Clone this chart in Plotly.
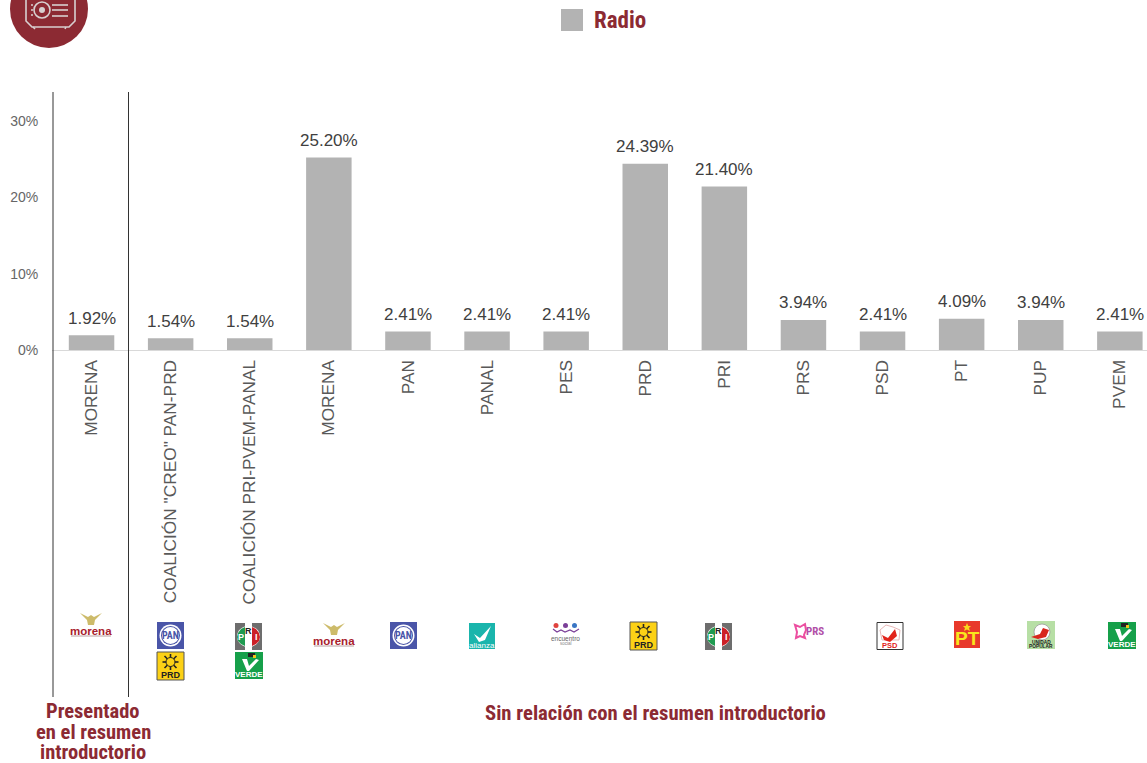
import plotly.graph_objects as go

W, H = 1147, 763
categories = ['MORENA', 'COALICIÓN "CREO" PAN-PRD', 'COALICIÓN PRI-PVEM-PANAL', 'MORENA', 'PAN', 'PANAL', 'PES',
              'PRD', 'PRI', 'PRS', 'PSD', 'PT', 'PUP', 'PVEM']
values = [1.92, 1.54, 1.54, 25.20, 2.41, 2.41, 2.41, 24.39, 21.40, 3.94, 2.41, 4.09, 3.94, 2.41]
series_name = 'Radio'
y_ticks = [0, 10, 20, 30]
RED = '#8c2a33'
NARROW = 'Liberation Sans Narrow, Roboto Condensed, Liberation Sans, sans-serif'
SANS = 'Liberation Sans, Arial, sans-serif'

shapes, notes = [], []
def px(x): return x / W
def py(y): return 1 - y / H
def rect(x0, y0, x1, y1, fill, line=None, lw=0, kind='rect'):
    shapes.append(dict(type=kind, xref='paper', yref='paper', x0=px(x0), x1=px(x1), y0=py(y0), y1=py(y1),
                       fillcolor=fill, line=dict(color=line or fill, width=lw)))
def seg(x0, y0, x1, y1, color, lw=1):
    shapes.append(dict(type='line', xref='paper', yref='paper', x0=px(x0), x1=px(x1), y0=py(y0), y1=py(y1),
                       line=dict(color=color, width=lw)))
def poly(points, fill, line=None, lw=0, close=True):
    d = 'M ' + ' L '.join(f'{px(a):.5f},{py(b):.5f}' for a, b in points) + (' Z' if close else '')
    shapes.append(dict(type='path', xref='paper', yref='paper', path=d, fillcolor=fill,
                       line=dict(color=line or fill, width=lw)))
def text(x, y, s, size, color, family=SANS, bold=False):
    notes.append(dict(xref='paper', yref='paper', x=px(x), y=py(y), text=f'<b>{s}</b>' if bold else s,
                      showarrow=False, xanchor='center', yanchor='middle',
                      font=dict(size=size, color=color, family=family)))

# projector badge
rect(10, -30, 88, 48, RED, kind='circle')
ICON = '#d8d0d0'
poly([(26, -6), (75, -6), (75, 21), (69, 27), (32, 27), (26, 21)], 'rgba(0,0,0,0)', ICON, 1.6)
rect(34, 2, 50, 18, 'rgba(0,0,0,0)', ICON, 1.6, 'circle')
rect(39, 7, 45, 13, ICON, kind='circle')
for yy in (5, 10, 16):
    seg(52, yy, 68, yy, ICON, 1.6)
for yy in (5, 10, 15):
    seg(31, yy, 33, yy, ICON, 1.4)
seg(33, 27, 35, 29, ICON, 1.6)
seg(66, 27, 65, 29, ICON, 1.6)

# legend
rect(561, 9, 583, 31, '#b3b3b3')
text(620, 20.5, series_name, 23, RED, NARROW, True)

# separators
seg(53, 92, 53, 697, '#333333', 1)
seg(128.5, 92, 128.5, 697, '#333333', 1)

# footers
text(93, 711, 'Presentado', 20.5, RED, NARROW, True)
text(93, 732, 'en el resumen', 20.5, RED, NARROW, True)
text(93, 752, 'introductorio', 20.5, RED, NARROW, True)
text(655, 713, 'Sin relación con el resumen introductorio', 20.7, RED, NARROW, True)

# logos
def morena(cx, top):
    poly([(cx-11, top), (cx-3, top+4), (cx, top+2), (cx+3, top+4), (cx+11, top), (cx+4, top+7),
          (cx+3, top+12), (cx-3, top+12), (cx-4, top+7)], '#cdbb6a')
    text(cx, top+17.5, 'morena', 11.5, '#a8202c', SANS, True)
    seg(cx-20, top+23, cx+20, top+23, '#b9a0a0', 1)
def pan(x, y):
    rect(x, y, x+27, y+27, '#4a55a8')
    rect(x+2.5, y+2.5, x+24.5, y+24.5, 'white', kind='circle')
    rect(x+4, y+4, x+23, y+23, '#4a55a8', kind='circle')
    rect(x+5, y+5, x+22, y+22, 'white', kind='circle')
    text(x+13.5, y+13.5, 'PAN', 10, '#4a55a8', NARROW, True)
def prd(x, y):
    rect(x, y, x+27, y+28, '#fcd116', '#555555', 1)
    for dx, dy in [(-8, 0), (8, 0), (0, -8), (0, 8), (-6, -6), (6, -6), (-6, 6), (6, 6)]:
        seg(x+13.5, y+10, x+13.5+dx, y+10+dy, '#222222', 1.6)
    rect(x+9, y+5.5, x+18, y+14.5, '#fcd116', '#222222', 1, 'circle')
    text(x+13.5, y+22.5, 'PRD', 9, '#222222', SANS, True)
def pri(x, y):
    rect(x, y, x+27, y+27, '#6d6d6d')
    rect(x+2, y+3, x+25, y+24, 'white', kind='circle')
    poly([(x+10, y+4), (x+6, y+6), (x+3, y+10), (x+2, y+14), (x+3, y+18), (x+6, y+21), (x+10, y+23)], '#1f9a50')
    poly([(x+17, y+4), (x+21, y+6), (x+24, y+10), (x+25, y+14), (x+24, y+18), (x+21, y+21), (x+17, y+23)], '#cc2027')
    rect(x+10, y, x+17, y+27, 'white')
    text(x+6, y+14, 'P', 9, 'white', SANS, True)
    text(x+13.5, y+8, 'R', 9, '#222222', SANS, True)
    text(x+21, y+14, 'I', 9, 'white', SANS, True)
def verde(x, y):
    rect(x, y, x+28, y+27, '#16a04a')
    poly([(x+7, y+7), (x+12, y+7), (x+14, y+14), (x+21, y+7), (x+24, y+8), (x+14, y+19), (x+12, y+19)], 'white')
    rect(x+13, y+1, x+20, y+5, '#222222')
    rect(x+18, y+3, x+21, y+6, '#f5c518')
    text(x+14, y+22, 'VERDE', 8, 'white', SANS, True)

morena(91, 613)
pan(157, 622); prd(157, 652); pri(235, 623); verde(235, 652)
morena(334, 623)
pan(390, 622)
# alianza
rect(469, 623, 495, 649, '#1ab5ac')
poly([(474, 634), (480, 638), (491, 626), (485, 640), (479, 642)], 'white')
text(482, 645, 'alianza', 8, 'white', SANS)
# encuentro social
for cx, c in [(556, '#e0433f'), (565.5, '#7b3f98'), (574.5, '#3a75c4')]:
    rect(cx-2.5, 623, cx+2.5, 628, c, kind='circle')
poly([(553, 629), (557, 632), (561, 630), (565, 632), (570, 630), (574, 632), (579, 629)], 'rgba(0,0,0,0)', '#7b3f98', 1.2, False)
text(565.5, 638.5, 'encuentro', 6.5, '#666666')
text(565.5, 643.5, 'social', 4.5, '#888888')
prd(630, 622)
pri(705, 623)
# PRS
poly([(795, 625), (800, 627), (805, 624), (806, 630), (804, 635), (805, 638), (800, 636), (796, 638), (797, 632)],
     'rgba(0,0,0,0)', '#ec4fa0', 2)
text(815, 631, 'PRS', 11, '#b14fa8', NARROW, True)
# PSD
rect(877, 622.5, 903, 649.5, 'white', '#333333', 1)
poly([(880, 630), (886, 625), (893, 627), (900, 630), (899, 640), (882, 640)], 'rgba(0,0,0,0)', '#e8b8b8', 1)
poly([(882, 635), (888, 638), (895, 629), (897, 636), (890, 642), (884, 640)], '#e2231a')
text(890, 645, 'PSD', 7.5, '#e2231a', SANS, True)
# PT
rect(954, 621, 980, 648, '#e8392b')
poly([(967, 623), (968.3, 626), (971, 626), (969, 628), (970, 631), (967, 629.5), (964, 631), (965, 628), (963, 626), (965.7, 626)], '#f9d71c')
text(967, 638.5, 'PT', 19, '#f9e61c', SANS, True)
# PUP
rect(1027, 621, 1055, 649, '#b7dfa5')
rect(1034, 624, 1050, 640, 'white', '#999999', 0.8, 'circle')
poly([(1031, 637), (1040, 634), (1043, 628), (1049, 630), (1046, 637), (1038, 639)], '#d8261c')
text(1041, 642, 'UNIDAD', 4.8, '#222222', SANS, True)
text(1041, 646, 'POPULAR', 4.8, '#222222', SANS, True)
verde(1108, 622)

positions = list(range(len(categories)))
for i, v in zip(positions, values):
    notes.append(dict(xref='x', yref='y', x=i, y=v, text=f'{v:.2f}%', showarrow=False, xanchor='center',
                      yanchor='middle', yshift=17, font=dict(size=17, color='#404040', family=SANS)))

fig = go.Figure(go.Bar(
    x=positions, y=values, name=series_name, width=0.575,
    marker=dict(color='#b3b3b3', line=dict(width=0)),
))
x_left = 52
slot = 79.1
fig.update_layout(
    width=W, height=H, autosize=False, margin=dict(l=0, r=0, t=0, b=0, pad=0),
    paper_bgcolor='white', plot_bgcolor='white', showlegend=False,
    shapes=shapes, annotations=notes,
    xaxis=dict(domain=[x_left / W, 1], range=[-0.5, (W - x_left) / slot - 0.5], automargin=False,
               tickmode='array', tickvals=positions, ticktext=categories, tickangle=-90, showgrid=False,
               zeroline=False, showline=True, linecolor='#d9d9d9', linewidth=1, ticks='outside', ticklen=2,
               tickcolor='rgba(0,0,0,0)', tickfont=dict(size=17.3, color='#595959', family=SANS)),
    yaxis=dict(domain=[1 - 350 / H, 1 - 92 / H], range=[0, 258 / 7.64], tickvals=y_ticks, automargin=False,
               ticktext=[f'{t}%' for t in y_ticks], showgrid=False, zeroline=False, showline=False,
               ticks='outside', ticklen=10, tickcolor='rgba(0,0,0,0)',
               tickfont=dict(size=14, color='#666666', family=SANS)),
)
fig.write_html("out.html", config=dict(displayModeBar=False, responsive=False),
               default_width=f'{W}px', default_height=f'{H}px',
               post_script="document.body.style.margin='0';document.documentElement.style.overflow='hidden';")
